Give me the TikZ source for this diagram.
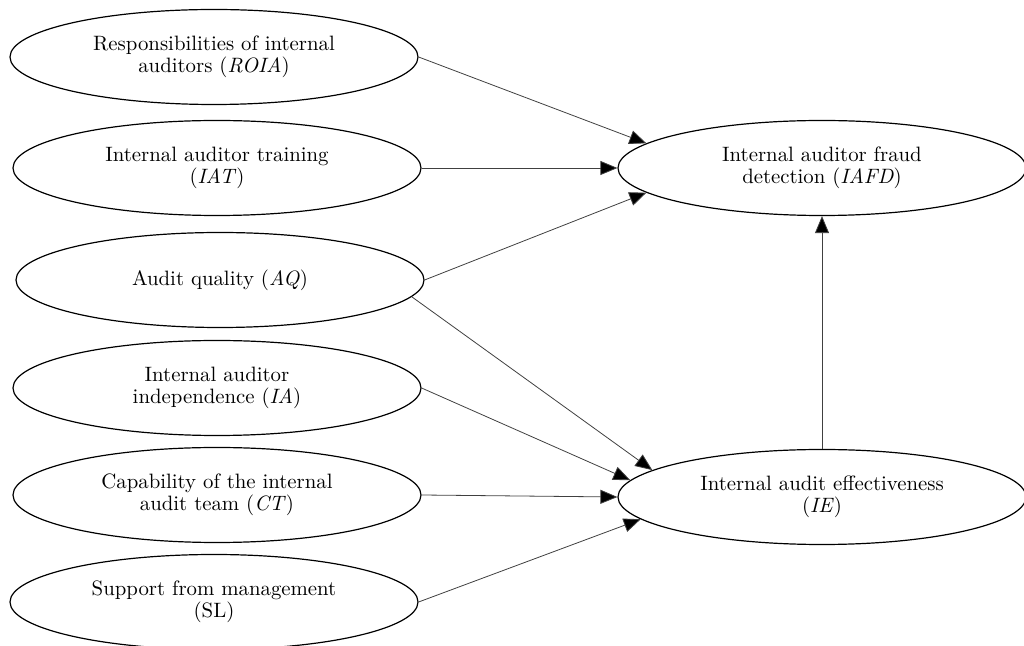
\documentclass[tikz,border=0pt]{standalone}
\usepackage{tikz}
\usetikzlibrary{
  shapes.geometric,%
  arrows.meta,
  positioning
}
\tikzset{>={Triangle[length=8.5pt,width=7pt]}}
\tikzset{font=\fontsize{10.4}{11}\selectfont}
\tikzset{factor/.style={ellipse, draw, line width=0.6pt, inner sep=0pt,
    minimum width=204pt, minimum height=47.5pt, align=center}}
\tikzset{path/.style={-{Triangle[length=8.5pt,width=7pt,fill=black]},
    line width=0.4pt, draw=black!75}}

\begin{document}
\begin{tikzpicture}[x=0.5pt,y=-0.5pt]
  \useasboundingbox (0,0) rectangle (1024,646);
  % factors on the left
  \node[factor] (roia) at (214,57) {Responsibilities of internal\\auditors (\textit{ROIA})};
  \node[factor] (iat) at (217,168) {Internal auditor training\\(\textit{IAT})};
  \node[factor] (aq) at (220,280) {Audit quality (\textit{AQ})};
  \node[factor] (ia) at (217,388) {Internal auditor\\independence (\textit{IA})};
  \node[factor] (ct) at (217,495) {Capability of the internal\\audit team (\textit{CT})};
  \node[factor] (sl) at (214,602) {Support from management\\(SL)};
  % outcomes
  \node[factor] (iafd) at (822,168) {Internal auditor fraud\\detection (\textit{IAFD})};
  \node[factor] (ie) at (822,497) {Internal audit effectiveness\\(\textit{IE})};
  \draw[path] (roia.east) -- (iafd.172);
  \draw[path] (iat.east) -- (iafd.west);
  \draw[path] (aq.east) -- (iafd.188);
  \draw[path] (aq.-5) -- (ie.171);
  \draw[path] (ia.east) -- (ie.175);
  \draw[path] (ct.east) -- (ie.west);
  \draw[path] (sl.east) -- (ie.187);
  \draw[path] (ie.north) -- (iafd.south);
\end{tikzpicture}
\end{document}
